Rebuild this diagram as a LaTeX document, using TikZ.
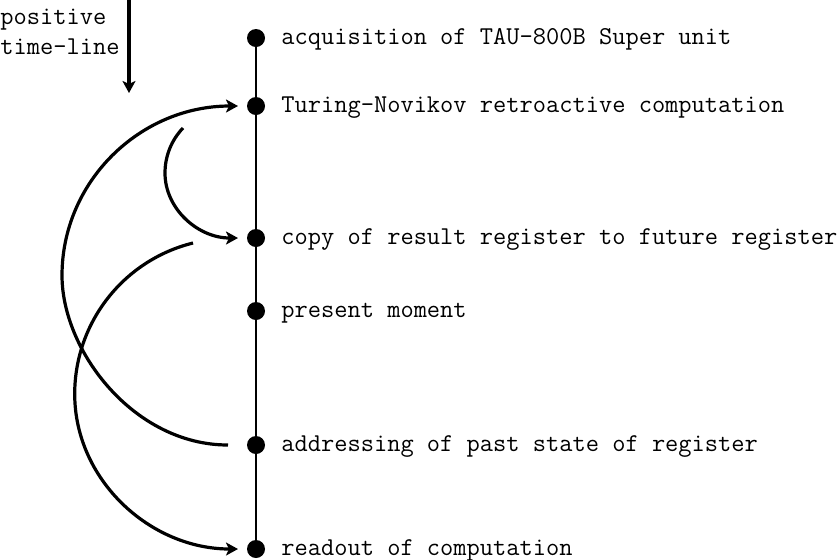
\documentclass[tikz,border=0pt]{standalone}
\usetikzlibrary{arrows.meta,positioning}
\tikzset{
    %Define standard arrow tip
    >={Stealth[length=6pt,width=6.5pt,inset=1.5pt]},
    %Define style for the events on the line
    event/.style={
           circle,
           fill=black,
           inner sep=0pt,
           minimum size=9pt},
    annote/.style={
          font=\ttfamily\fontsize{12.85}{15}\selectfont,
          anchor=base west,
          inner sep=0pt
    },
    % Define arrow style
    arrow/.style={
           ->,
           line width=1.6pt},
}
\begin{document}
\begin{tikzpicture}[x=0.5pt,y=-0.5pt]
  \useasboundingbox (0,0) rectangle (839,559);
  \coordinate (top) at (256,38);
  \coordinate (bot) at (256,549);
  \draw[line width=1pt] (top) -- (bot);
  \node[event] (acq)  at (256,38)  {};
  \node[event] (tur)  at (256,106) {};
  \node[event] (copy) at (256,238) {};
  \node[event] (now)  at (256,311) {};
  \node[event] (addr) at (256,445) {};
  \node[event] (read) at (256,549) {};
  \node[annote] (acq-t)  at ([xshift=12.5pt,yshift=-3.3pt]acq.center)  {acquisition of TAU-800B Super unit};
  \node[annote] (tur-t)  at ([xshift=12.5pt,yshift=-3.3pt]tur.center)  {Turing-Novikov retroactive computation};
  \node[annote] (copy-t) at ([xshift=12.5pt,yshift=-3.3pt]copy.center) {copy of result register to future register};
  \node[annote] (now-t)  at ([xshift=12.5pt,yshift=-3.3pt]now.center)  {present moment};
  \node[annote] (addr-t) at ([xshift=12.5pt,yshift=-3.3pt]addr.center) {addressing of past state of register};
  \node[annote] (read-t) at ([xshift=12.5pt,yshift=-3.3pt]read.center) {readout of computation};
  % direction of time
  \node[annote, align=left] (dir) at (0,54) {positive\\time-line};
  \coordinate (dir-top) at (129,0);
  \coordinate (dir-tip) at (129,93);
  \draw[arrow] (dir-top) -- (dir-tip);
  % free ends of the loops
  \coordinate (addr-src) at ([xshift=-14pt]addr.center);
  \coordinate (tur-src)  at (183,128);
  \coordinate (copy-src) at (193,243);
  \coordinate (tur-in)   at ([xshift=-9pt]tur.center);
  \coordinate (copy-in)  at ([xshift=-9pt]copy.center);
  \coordinate (read-in)  at ([xshift=-9pt]read.center);
  \draw[arrow] (addr-src) .. controls (134,445) and (62,351) .. (62,275.5)
                          .. controls (62,181.5) and (140,106) .. (tur-in);
  \draw[arrow] (tur-src) .. controls (171.4,140.1) and (165,156.2) .. (165,173)
                         .. controls (165,208.9) and (198,238) .. (copy-in);
  \draw[arrow] (copy-src) .. controls (123.6,260.1) and (74.7,322.5) .. (74.7,394)
                          .. controls (74.7,479.8) and (150,549) .. (read-in);
\end{tikzpicture}
\end{document}
